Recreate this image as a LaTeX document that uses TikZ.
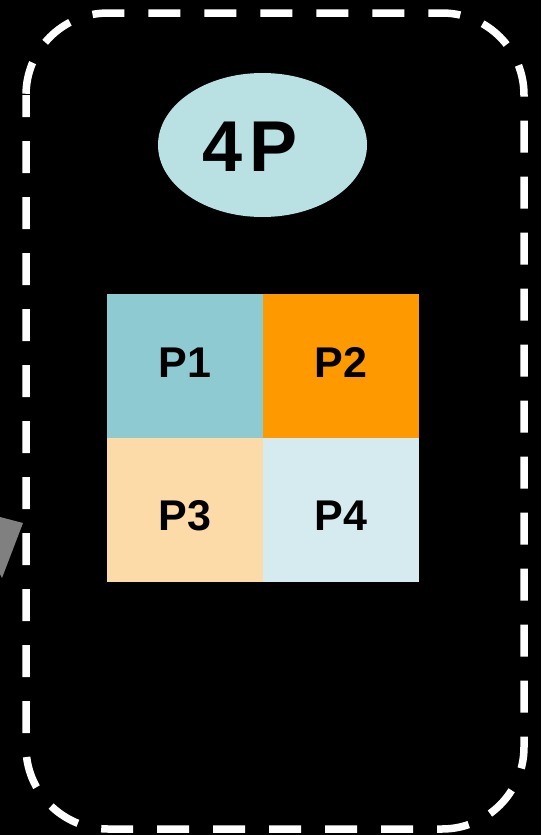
\documentclass[tikz,border=0pt]{standalone}
\usepackage{fontspec}
\setmainfont{Liberation Sans}
\usetikzlibrary{shapes.geometric}
\definecolor{ellc}{HTML}{B9E0E3}
\definecolor{cA}{HTML}{8ECAD2}
\definecolor{cB}{HTML}{FF9900}
\definecolor{cC}{HTML}{FDDBA8}
\definecolor{cD}{HTML}{D6EBEF}
\definecolor{arrowgray}{HTML}{808080}
\begin{document}
\begin{tikzpicture}[x=1pt,y=-1pt,
  cell/.style={rectangle, inner sep=0pt, minimum width=156pt, minimum height=144pt, fill=#1},
  celltext/.style={inner sep=0pt, font=\fontsize{43}{43}\selectfont\bfseries, text=black},
  frame/.style={draw=white, line width=7.5pt, dash pattern=on 32pt off 24pt, dash phase=10pt, rounded corners=82pt}]
\fill[black] (0,0) rectangle (541,835);
\useasboundingbox (0,0) rectangle (541,835);
% partial gray arrowhead at left edge
\fill[arrowgray] (0,517) -- (23,523) -- (2,578) -- (0,574) -- cycle;
% dashed frame
\draw[frame] (26,13) rectangle (524,829);
% title ellipse
\node[ellipse, fill=ellc, minimum width=209pt, minimum height=144pt, inner sep=0pt] (title) at (262.5,145) {};
\node[font=\fontsize{72}{72}\selectfont\bfseries, text=black, inner sep=0pt] (titletext) at (250,146.5) {4\kern7pt P};
% grid
\node[cell=cA] (p1) at (185,366) {};
\node[cell=cB] (p2) at (341,366) {};
\node[cell=cC] (p3) at (185,510) {};
\node[cell=cD] (p4) at (341,510) {};
\node[celltext] (t1) at (185,362.5) {P1};
\node[celltext] (t2) at (341,362.5) {P2};
\node[celltext] (t3) at (185,516) {P3};
\node[celltext] (t4) at (341,516) {P4};
\end{tikzpicture}
\end{document}
